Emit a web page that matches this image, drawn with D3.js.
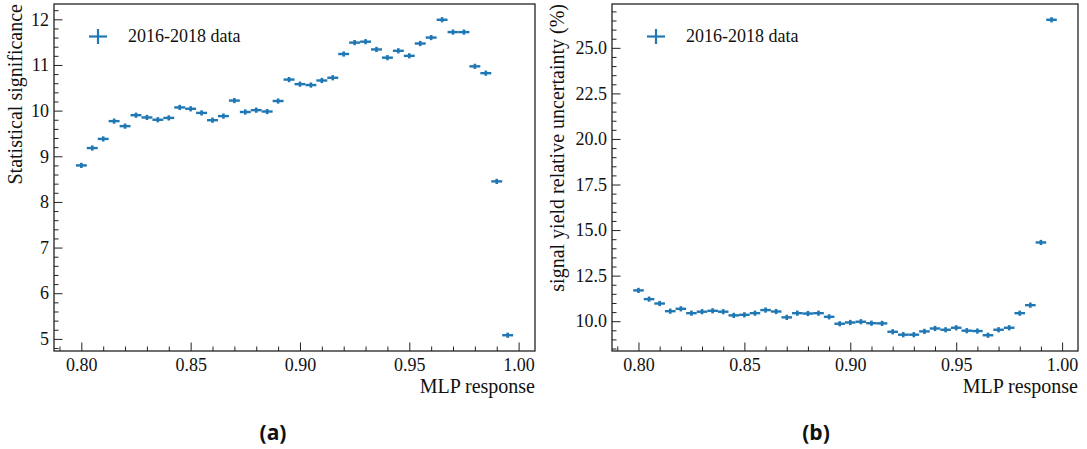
<!DOCTYPE html>
<html>
<head>
<meta charset="utf-8">
<script src="https://cdn.jsdelivr.net/npm/d3@7"></script>
<style>
  body { margin: 0; background: #fff; }
  svg { display: block; }
  .tick text { font-family: "Liberation Serif", "Times New Roman", serif; font-size: 18px; fill: #111; }
  .tick line { stroke: #222; stroke-width: 1; }
</style>
</head>
<body>
<svg id="fig" width="1087" height="449"></svg>
<script>
// MLP response bin centres (bin width 0.005)
const mlpBins = [
  0.800, 0.805, 0.810, 0.815, 0.820, 0.825, 0.830, 0.835, 0.840, 0.845,
  0.850, 0.855, 0.860, 0.865, 0.870, 0.875, 0.880, 0.885, 0.890, 0.895,
  0.900, 0.905, 0.910, 0.915, 0.920, 0.925, 0.930, 0.935, 0.940, 0.945,
  0.950, 0.955, 0.960, 0.965, 0.970, 0.975, 0.980, 0.985, 0.990, 0.995
];
const binHalfWidth = 0.0025;

// Statistical significance per MLP cut
const significance = [
  8.80, 9.18, 9.38, 9.77, 9.66, 9.90, 9.85, 9.80, 9.84, 10.07,
  10.04, 9.95, 9.79, 9.88, 10.22, 9.97, 10.01, 9.98, 10.21, 10.68,
  10.58, 10.56, 10.66, 10.72, 11.24, 11.49, 11.51, 11.34, 11.16, 11.31,
  11.20, 11.47, 11.60, 11.99, 11.72, 11.72, 10.97, 10.82, 8.45, 5.08
];

// Signal yield relative uncertainty (%) per MLP cut
const uncertainty = [
  11.69, 11.21, 10.97, 10.55, 10.68, 10.44, 10.52, 10.57, 10.52, 10.32,
  10.35, 10.44, 10.61, 10.53, 10.21, 10.44, 10.42, 10.44, 10.24, 9.86,
  9.93, 9.97, 9.89, 9.88, 9.42, 9.26, 9.26, 9.44, 9.60, 9.53,
  9.64, 9.48, 9.46, 9.23, 9.53, 9.64, 10.44, 10.88, 14.32, 26.54
];

const xTicks = [0.80, 0.85, 0.90, 0.95, 1.00];
const xMinorTicks = [0.79, 0.80, 0.81, 0.82, 0.83, 0.84, 0.85, 0.86, 0.87, 0.88, 0.89,
                     0.90, 0.91, 0.92, 0.93, 0.94, 0.95, 0.96, 0.97, 0.98, 0.99, 1.00];
const sigTicks = [5, 6, 7, 8, 9, 10, 11, 12];
const uncTicks = [10.0, 12.5, 15.0, 17.5, 20.0, 22.5, 25.0];

const legendLabel = "2016-2018 data";
const xLabel = "MLP response";
const color = "#1f77b4";

const svg = d3.select("#fig");
svg.append("rect").attr("width", 1087).attr("height", 449).attr("fill", "#fff");

// y-range with a 5% margin on each side of the data
function paddedDomain(values) {
  const [lo, hi] = d3.extent(values);
  const m = (hi - lo) * 0.05;
  return [lo - m, hi + m];
}

function minorRange(lo, hi, step) {
  const out = [];
  const n = Math.round((hi - lo) / step);
  for (let i = 0; i <= n; i++) out.push(+(lo + i * step).toFixed(4));
  return out;
}

function drawPanel(opts) {
  const { left, top, right, bottom, values, yTicks, yFormat, yMinorStep, yLabel, yLabelX, tag, tagX } = opts;
  const g = svg.append("g");

  const x = d3.scaleLinear()
    .domain([mlpBins[0] - binHalfWidth - 0.01, mlpBins[mlpBins.length - 1] + binHalfWidth + 0.01])
    .range([left, right]);
  const y = d3.scaleLinear().domain(paddedDomain(values)).range([bottom, top]);

  // minor ticks
  const yDom = y.domain();
  const yMinor = minorRange(Math.ceil(yDom[0] / yMinorStep) * yMinorStep,
                            Math.floor(yDom[1] / yMinorStep) * yMinorStep, yMinorStep)
    .filter(v => !yTicks.some(t => Math.abs(t - v) < 1e-6));
  const xMinor = xMinorTicks.filter(v => !xTicks.some(t => Math.abs(t - v) < 1e-6) && v >= x.domain()[0] && v <= x.domain()[1]);

  g.append("g").attr("transform", `translate(0,${bottom})`)
    .call(d3.axisBottom(x).tickValues(xMinor).tickFormat("").tickSizeInner(-4.5).tickSizeOuter(0))
    .call(a => a.select(".domain").remove());
  g.append("g").attr("transform", `translate(${left},0)`)
    .call(d3.axisLeft(y).tickValues(yMinor).tickFormat("").tickSizeInner(-4.5).tickSizeOuter(0))
    .call(a => a.select(".domain").remove());

  // major ticks with labels
  g.append("g").attr("transform", `translate(0,${bottom})`)
    .call(d3.axisBottom(x).tickValues(xTicks).tickFormat(d3.format(".2f")).tickSizeInner(-8.5).tickSizeOuter(0).tickPadding(7))
    .call(a => a.select(".domain").remove())
    .call(a => a.selectAll("text").attr("dy", "0.71em"));
  g.append("g").attr("transform", `translate(${left},0)`)
    .call(d3.axisLeft(y).tickValues(yTicks).tickFormat(yFormat).tickSizeInner(-8.5).tickSizeOuter(0).tickPadding(5))
    .call(a => a.select(".domain").remove());

  // frame
  g.append("rect")
    .attr("x", left).attr("y", top)
    .attr("width", right - left).attr("height", bottom - top)
    .attr("fill", "none").attr("stroke", "#222").attr("stroke-width", 1.3);

  // data points: horizontal bin-width bars with a short vertical error
  const pts = g.append("g");
  mlpBins.forEach((b, i) => {
    const cy = y(values[i]);
    pts.append("line")
      .attr("x1", x(b - binHalfWidth)).attr("x2", x(b + binHalfWidth))
      .attr("y1", cy).attr("y2", cy)
      .attr("stroke", color).attr("stroke-width", 2.4);
    pts.append("line")
      .attr("x1", x(b)).attr("x2", x(b))
      .attr("y1", cy - 2.6).attr("y2", cy + 2.6)
      .attr("stroke", color).attr("stroke-width", 2.6);
  });

  // legend
  const lx = left + 44, ly = 36.5;
  g.append("line").attr("x1", lx - 9).attr("x2", lx + 9).attr("y1", ly).attr("y2", ly)
    .attr("stroke", color).attr("stroke-width", 2.2);
  g.append("line").attr("x1", lx).attr("x2", lx).attr("y1", ly - 7.5).attr("y2", ly + 7.5)
    .attr("stroke", color).attr("stroke-width", 2.2);
  g.append("text").attr("x", left + 74).attr("y", 42)
    .attr("font-family", "Liberation Serif, serif").attr("font-size", 18).attr("fill", "#111")
    .text(legendLabel);

  // axis labels
  g.append("text").attr("x", right).attr("y", 393)
    .attr("text-anchor", "end")
    .attr("font-family", "Liberation Serif, serif").attr("font-size", 20).attr("fill", "#111")
    .text(xLabel);
  g.append("text")
    .attr("transform", `translate(${yLabelX},${top}) rotate(-90)`)
    .attr("text-anchor", "end")
    .attr("font-family", "Liberation Serif, serif").attr("font-size", 20).attr("fill", "#111")
    .text(yLabel);

  // sub-figure tag
  g.append("text").attr("x", tagX).attr("y", 440)
    .attr("text-anchor", "middle")
    .attr("font-family", "Open Sans, sans-serif").attr("font-weight", 700).attr("font-size", 21).attr("fill", "#111")
    .text(tag);
}

drawPanel({
  left: 54, top: 4, right: 535, bottom: 351,
  values: significance, yTicks: sigTicks, yFormat: d3.format("d"), yMinorStep: 0.2,
  yLabel: "Statistical significance", yLabelX: 21.5,
  tag: "(a)", tagX: 273
});

drawPanel({
  left: 612, top: 4, right: 1078, bottom: 351,
  values: uncertainty, yTicks: uncTicks, yFormat: d3.format(".1f"), yMinorStep: 0.5,
  yLabel: "signal yield relative uncertainty (%)", yLabelX: 564,
  tag: "(b)", tagX: 816
});
</script>
</body>
</html>
